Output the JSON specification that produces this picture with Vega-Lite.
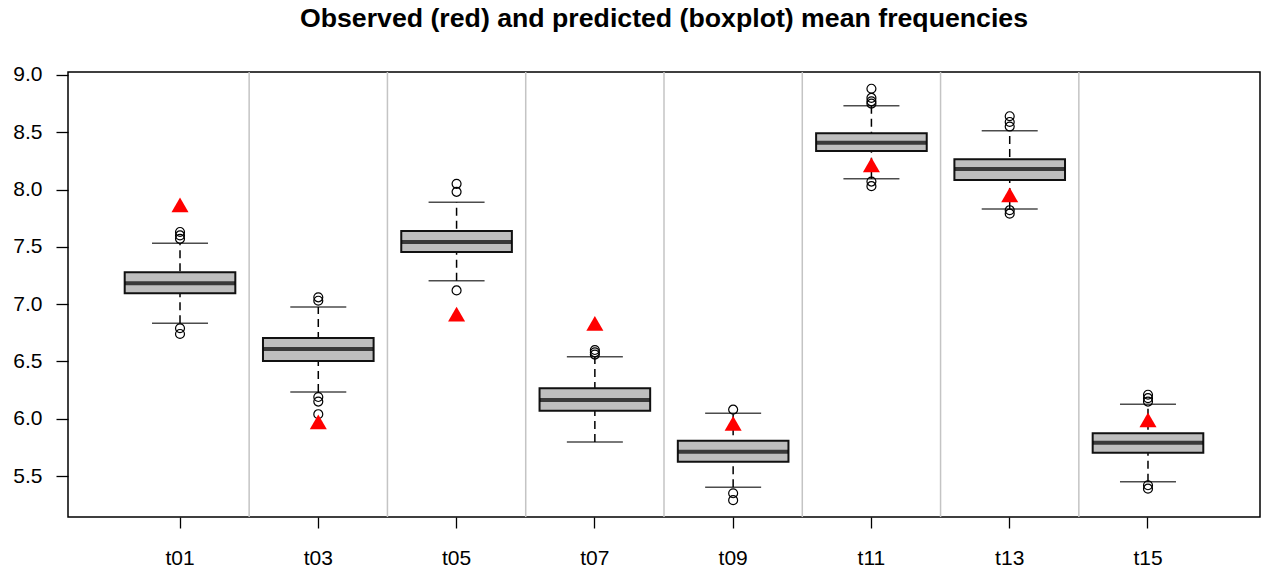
{
  "$schema": "https://vega.github.io/schema/vega-lite/v6.json",
  "autosize": "none",
  "padding": {"left": 68, "top": 72, "right": 1, "bottom": 54},
  "width": 1192,
  "height": 445,
  "title": {
    "text": "Observed (red) and predicted (boxplot) mean frequencies",
    "font": "Liberation Sans",
    "fontSize": 26.7,
    "fontWeight": "bold",
    "color": "#000",
    "anchor": "middle",
    "offset": 31
  },
  "datasets": {
    "boxes": [
      {"cat": "t01", "lo": 6.833, "q1": 7.095, "med": 7.182, "q3": 7.278, "hi": 7.531, "obs": 7.866},
      {"cat": "t03", "lo": 6.234, "q1": 6.504, "med": 6.609, "q3": 6.705, "hi": 6.976, "obs": 5.972},
      {"cat": "t05", "lo": 7.205, "q1": 7.455, "med": 7.543, "q3": 7.639, "hi": 7.889, "obs": 6.914},
      {"cat": "t07", "lo": 5.798, "q1": 6.071, "med": 6.164, "q3": 6.266, "hi": 6.542, "obs": 6.833},
      {"cat": "t09", "lo": 5.402, "q1": 5.626, "med": 5.713, "q3": 5.809, "hi": 6.048, "obs": 5.961},
      {"cat": "t11", "lo": 8.095, "q1": 8.337, "med": 8.409, "q3": 8.491, "hi": 8.732, "obs": 8.215},
      {"cat": "t13", "lo": 7.831, "q1": 8.084, "med": 8.180, "q3": 8.264, "hi": 8.514, "obs": 7.953},
      {"cat": "t15", "lo": 5.451, "q1": 5.704, "med": 5.791, "q3": 5.873, "hi": 6.126, "obs": 5.990}
    ],
    "outliers": [
      {"cat": "t01", "v": 7.63}, {"cat": "t01", "v": 7.60}, {"cat": "t01", "v": 7.57},
      {"cat": "t01", "v": 6.79}, {"cat": "t01", "v": 6.74},
      {"cat": "t03", "v": 7.06}, {"cat": "t03", "v": 7.03}, {"cat": "t03", "v": 6.19},
      {"cat": "t03", "v": 6.15}, {"cat": "t03", "v": 6.04},
      {"cat": "t05", "v": 8.05}, {"cat": "t05", "v": 7.98}, {"cat": "t05", "v": 7.12},
      {"cat": "t07", "v": 6.60}, {"cat": "t07", "v": 6.58}, {"cat": "t07", "v": 6.56},
      {"cat": "t09", "v": 6.08}, {"cat": "t09", "v": 5.35}, {"cat": "t09", "v": 5.29},
      {"cat": "t11", "v": 8.88}, {"cat": "t11", "v": 8.80}, {"cat": "t11", "v": 8.77},
      {"cat": "t11", "v": 8.75}, {"cat": "t11", "v": 8.07}, {"cat": "t11", "v": 8.03},
      {"cat": "t13", "v": 8.64}, {"cat": "t13", "v": 8.59}, {"cat": "t13", "v": 8.55},
      {"cat": "t13", "v": 7.82}, {"cat": "t13", "v": 7.79},
      {"cat": "t15", "v": 6.21}, {"cat": "t15", "v": 6.18}, {"cat": "t15", "v": 6.15},
      {"cat": "t15", "v": 5.42}, {"cat": "t15", "v": 5.39}
    ],
    "separators": [
      {"cat": "t03"}, {"cat": "t05"}, {"cat": "t07"}, {"cat": "t09"},
      {"cat": "t11"}, {"cat": "t13"}, {"cat": "t15"}
    ]
  },
  "encoding": {
    "x": {
      "field": "cat",
      "type": "nominal",
      "title": null,
      "sort": ["t01", "t03", "t05", "t07", "t09", "t11", "t13", "t15"],
      "scale": {
        "domain": ["t01", "t03", "t05", "t07", "t09", "t11", "t13", "t15"],
        "paddingInner": 0,
        "paddingOuter": 0.31
      },
      "axis": {
        "labelAngle": 0,
        "domain": false,
        "tickSize": 11,
        "tickColor": "#000",
        "tickWidth": 1.3,
        "labelPadding": 19,
        "labelFont": "Liberation Sans",
        "labelFontSize": 21,
        "labelColor": "#000",
        "grid": false
      }
    }
  },
  "layer": [
    {
      "data": {"name": "separators"},
      "mark": {"type": "rule", "color": "#c4c4c4", "strokeWidth": 1.5},
      "encoding": {
        "x": {"field": "cat", "type": "nominal", "bandPosition": 0}
      }
    },
    {
      "data": {"name": "boxes"},
      "mark": {"type": "rule", "color": "#000", "strokeWidth": 1.5, "strokeDash": [8, 5]},
      "encoding": {
        "y": {
          "field": "lo",
          "type": "quantitative",
          "title": null,
          "scale": {"domain": [5.143, 9.026], "nice": false, "zero": false},
          "axis": {
            "values": [5.5, 6.0, 6.5, 7.0, 7.5, 8.0, 8.5, 9.0],
            "format": ".1f",
            "domain": false,
            "grid": false,
            "tickSize": 12,
            "tickColor": "#000",
            "tickWidth": 1.3,
            "labelPadding": 14,
            "labelFont": "Liberation Sans",
            "labelFontSize": 21,
            "labelColor": "#000"
          }
        },
        "y2": {"field": "hi"}
      }
    },
    {
      "data": {"name": "boxes"},
      "mark": {"type": "tick", "color": "#000", "size": 56, "thickness": 1.5},
      "encoding": {"y": {"field": "lo", "type": "quantitative"}}
    },
    {
      "data": {"name": "boxes"},
      "mark": {"type": "tick", "color": "#000", "size": 56, "thickness": 1.5},
      "encoding": {"y": {"field": "hi", "type": "quantitative"}}
    },
    {
      "data": {"name": "boxes"},
      "mark": {"type": "bar", "fill": "#bebebe", "stroke": "#111", "strokeWidth": 2, "width": {"band": 0.8}},
      "encoding": {
        "y": {"field": "q1", "type": "quantitative"},
        "y2": {"field": "q3"}
      }
    },
    {
      "data": {"name": "boxes"},
      "mark": {"type": "tick", "color": "#000", "size": 110, "thickness": 4},
      "encoding": {"y": {"field": "med", "type": "quantitative"}}
    },
    {
      "data": {"name": "outliers"},
      "mark": {"type": "point", "shape": "circle", "filled": false, "stroke": "#000", "strokeWidth": 1.2, "size": 80, "opacity": 1},
      "encoding": {"y": {"field": "v", "type": "quantitative"}}
    },
    {
      "data": {"name": "boxes"},
      "mark": {"type": "point", "shape": "triangle-up", "filled": true, "fill": "#ff0000", "strokeWidth": 0, "size": 290, "opacity": 1},
      "encoding": {"y": {"field": "obs", "type": "quantitative"}}
    }
  ],
  "config": {
    "view": {"stroke": "#000", "strokeWidth": 1.5},
    "font": "Liberation Sans"
  }
}
